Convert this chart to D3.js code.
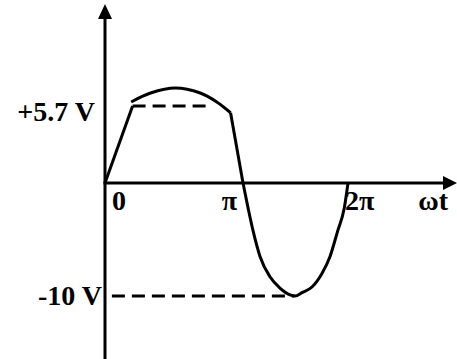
<!DOCTYPE html>
<html><head><meta charset="utf-8">
<script src="https://cdn.jsdelivr.net/npm/d3@7"></script>
<style>html,body{margin:0;padding:0;background:#fff;overflow:hidden}</style>
</head><body>
<svg id="chart" width="457" height="359"></svg>
<script>
// ---- data (phase in multiples of π, voltage in V) ----
const phaseTicks = [0, 1, 2];
const phaseLabels = ["0", "π", "2π"];
const axisLabel = "ωt";
const levelValues = [5.7, -10];
const levelLabels = ["+5.7 V", "-10 V"];
const risePhase = [0, 0.20];
const riseVolts = [0, 5.7];
const capPhase = [0.19, 0.33, 0.51, 0.69, 0.81, 0.91];
const capVolts = [6.0, 6.66, 7.03, 6.66, 6.0, 5.2];
const fallPhase = [0.91, 1.0];
const fallVolts = [5.2, 0];
const lobePhase = [1.0, 1.048, 1.095, 1.162, 1.257, 1.352, 1.448, 1.495, 1.562, 1.657, 1.752, 1.829, 1.900, 1.965, 2.0];
const lobeVolts = [0, -2.2, -4.2, -6.5, -8.3, -9.3, -9.9, -10, -9.7, -9.2, -8.0, -6.5, -4.3, -2.2, 0];
const dashPhaseStart = [0.20, 0.05];
const dashPhaseEnd = [0.74, 1.49];

const svg = d3.select("#chart");
const W = 457, H = 359;
const x = d3.scaleLinear().domain([0, 1, 2]).range([105, 243, 348]);
const y = d3.scaleLinear().domain([-10, 0, 5.7]).range([296, 183, 106]);

const zip = (a, b) => a.map((v, i) => [v, b[i]]);
const lin = d3.line().x(d => x(d[0])).y(d => y(d[1]));
const smooth = d3.line().x(d => x(d[0])).y(d => y(d[1])).curve(d3.curveCatmullRom.alpha(0.5));
const mono = d3.line().x(d => x(d[0])).y(d => y(d[1])).curve(d3.curveMonotoneX);

// axes
svg.append("line").attr("x1", x(0)).attr("x2", x(0)).attr("y1", 16).attr("y2", H)
  .attr("stroke", "#000").attr("stroke-width", 3);
svg.append("line").attr("x1", x(0) - 1.5).attr("x2", W - 12).attr("y1", y(0)).attr("y2", y(0))
  .attr("stroke", "#000").attr("stroke-width", 3);
svg.append("path").attr("d", `M${x(0)},4 L${x(0) - 7},19 L${x(0) + 7},19 Z`).attr("fill", "#000");
svg.append("path").attr("d", `M${W},${y(0)} L${W - 14},${y(0) - 7} L${W - 14},${y(0) + 7} Z`).attr("fill", "#000");

// dashed reference levels
levelValues.forEach((v, i) => {
  svg.append("line")
    .attr("x1", x(dashPhaseStart[i])).attr("x2", x(dashPhaseEnd[i]))
    .attr("y1", y(v)).attr("y2", y(v))
    .attr("stroke", "#000").attr("stroke-width", 3).attr("stroke-dasharray", "13,7");
});

// waveform
const g = svg.append("g").attr("fill", "none").attr("stroke", "#000").attr("stroke-width", 3)
  .attr("stroke-linejoin", "round");
g.append("path").attr("d", lin(zip(risePhase, riseVolts)));
g.append("path").attr("d", smooth(zip(capPhase, capVolts)));
g.append("path").attr("d", lin(zip(fallPhase, fallVolts)));
g.append("path").attr("d", mono(zip(lobePhase, lobeVolts)));

// labels
const font = "'Liberation Serif','Times New Roman',serif";
const tickAnchor = ["start", "end", "start"];
const tickDx = [7, -6, -3];
phaseTicks.forEach((p, i) => {
  svg.append("text").attr("x", x(p) + tickDx[i]).attr("y", y(0) + 27)
    .attr("text-anchor", tickAnchor[i])
    .attr("font-family", font).attr("font-weight", "bold").attr("font-size", 28)
    .text(phaseLabels[i]);
});
svg.append("text").attr("x", 448).attr("y", y(0) + 27).attr("text-anchor", "end")
  .attr("font-family", font).attr("font-weight", "bold").attr("font-size", 28).text(axisLabel);

const levelDx = [-10, -3];
levelValues.forEach((v, i) => {
  svg.append("text").attr("x", x(0) + levelDx[i]).attr("y", y(v) + (i === 0 ? 15 : 9))
    .attr("text-anchor", "end")
    .attr("font-family", font).attr("font-weight", "bold").attr("font-size", 28)
    .text(levelLabels[i]);
});
</script>
</body></html>
